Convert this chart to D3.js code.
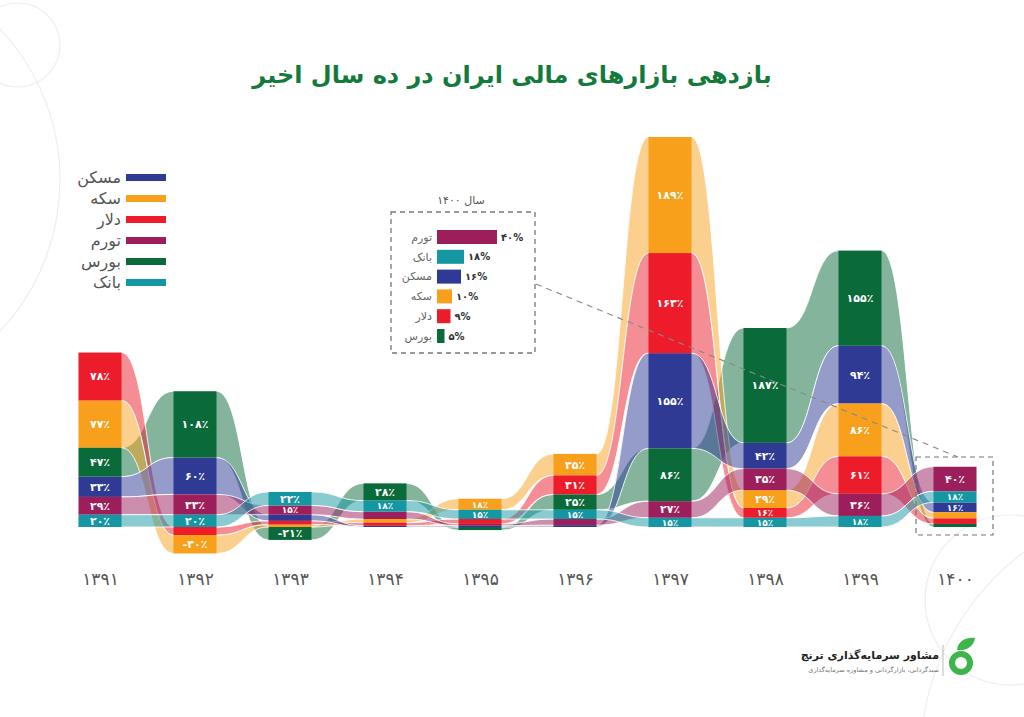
<!DOCTYPE html>
<html><head><meta charset="utf-8">
<script src="https://cdn.jsdelivr.net/npm/d3@7"></script>
<style>body{margin:0;background:#fff;} svg{display:block;font-family:"DejaVu Sans",sans-serif;}</style>
</head><body>
<svg id="c" width="1024" height="717"></svg>
<script>
// ---------- DATA ----------
const years = ["1391","1392","1393","1394","1395","1396","1397","1398","1399","1400"];
const seriesNames = ["مسکن","سکه","دلار","تورم","بورس","بانک"];
const seriesColors = ["#2E3A94","#F8A01B","#EC1C2A","#9C1E5B","#0A6A3A","#1597A3"];
const housing   = [33, 60, 10, 2, 2, 3, 155, 42, 94, 16];
const coin      = [77, -30, 4, 6, 18, 35, 189, 29, 86, 10];
const dollar    = [78, -13, 6, 5, 8, 31, 163, 16, 61, 9];
const inflation = [29, 33, 15, 12, 3, 10, 27, 35, 36, 40];
const bourse    = [47, 108, -21, 28, -5, 25, 86, 187, 155, 5];
const bank      = [20, 20, 22, 18, 15, 15, 15, 15, 18, 18];
const seriesValues = [housing, coin, dollar, inflation, bourse, bank];
const titleText = "بازدهی بازارهای مالی ایران در ده سال اخیر";
const insetTitle = "سال 1400";

// ---------- HELPERS ----------
const fa = s => String(s).replace(/\d/g, d => "۰۱۲۳۴۵۶۷۸۹"[+d]);
const svg = d3.select("#c");

// background decoration
const deco = svg.append("g").attr("fill","none").attr("stroke","#eeeeee").attr("stroke-width",1.2);
deco.append("circle").attr("cx",18).attr("cy",45).attr("r",42);
deco.append("circle").attr("cx",-160).attr("cy",180).attr("r",220);
deco.append("circle").attr("cx",1010).attr("cy",600).attr("r",85);
deco.append("circle").attr("cx",1180).attr("cy",760).attr("r",260);

// ---------- SCALES ----------
const x = d3.scalePoint().domain(years).range([100, 955]);
const y = d3.scaleLinear().domain([0, 635]).range([527, 137]);
const bw = 43;

// stack per year
const stacks = seriesNames.map(() => []);
years.forEach((yr, i) => {
  const items = seriesValues.map((arr, s) => ({s, v: arr[i]}));
  const pos = items.filter(d => d.v >= 0).sort((a,b) => a.v - b.v);
  const neg = items.filter(d => d.v < 0).sort((a,b) => b.v - a.v);
  let c = 0;
  pos.forEach(d => { stacks[d.s][i] = {v:d.v, lo:c, hi:c+d.v}; c += d.v; });
  c = 0;
  neg.forEach(d => { stacks[d.s][i] = {v:d.v, lo:c+d.v, hi:c}; c += d.v; });
});

// ---------- RIBBONS ----------
const drawOrder = [4, 1, 2, 0, 3, 5];
const rib = svg.append("g");
drawOrder.forEach(s => {
  const st = stacks[s];
  const p = d3.path();
  const n = years.length;
  const xl = i => x(years[i]) - bw/2, xr = i => x(years[i]) + bw/2;
  p.moveTo(xl(0), y(st[0].hi));
  p.lineTo(xr(0), y(st[0].hi));
  for (let i = 1; i < n; i++) {
    const m = (xr(i-1) + xl(i)) / 2;
    p.bezierCurveTo(m, y(st[i-1].hi), m, y(st[i].hi), xl(i), y(st[i].hi));
    p.lineTo(xr(i), y(st[i].hi));
  }
  p.lineTo(xr(n-1), y(st[n-1].lo));
  p.lineTo(xl(n-1), y(st[n-1].lo));
  for (let i = n-2; i >= 0; i--) {
    const m = (xr(i) + xl(i+1)) / 2;
    p.bezierCurveTo(m, y(st[i+1].lo), m, y(st[i].lo), xr(i), y(st[i].lo));
    p.lineTo(xl(i), y(st[i].lo));
  }
  p.closePath();
  rib.append("path").attr("d", p.toString())
    .attr("fill", seriesColors[s]).attr("fill-opacity", 0.5)
    .attr("stroke", "#fff").attr("stroke-width", 1).attr("stroke-opacity", 0.85);
});

// ---------- BARS ----------
const bars = svg.append("g");
const labels = svg.append("g").attr("font-weight", "bold")
  .attr("fill", "#fff").attr("text-anchor", "middle");
seriesNames.forEach((nm, s) => {
  years.forEach((yr, i) => {
    const d = stacks[s][i];
    bars.append("rect").attr("x", x(yr) - bw/2).attr("width", bw)
      .attr("y", y(d.hi)).attr("height", Math.max(0, y(d.lo) - y(d.hi)))
      .attr("fill", seriesColors[s]);
    if (Math.abs(d.v) >= 15) {
      labels.append("text").attr("x", x(yr)).attr("y", (y(d.lo) + y(d.hi)) / 2)
        .attr("font-size", Math.abs(d.v) < 20 ? 9 : 11)
        .attr("dy", "0.36em").text(fa(d.v) + "٪");
    }
  });
});

// ---------- X AXIS (year labels) ----------
const xAxis = d3.axisBottom(x).tickSize(0).tickFormat(fa);
const gx = svg.append("g").attr("transform", "translate(0,570)").call(xAxis);
gx.select(".domain").remove();
gx.selectAll("text").attr("font-size", 17).attr("fill", "#555")
  .attr("font-family", "DejaVu Sans, sans-serif");

// ---------- TITLE ----------
svg.append("text").attr("x", 512).attr("y", 83).attr("text-anchor", "middle")
  .attr("font-size", 24).attr("font-weight", "bold").attr("fill", "#137A3C")
  .text(titleText);

// ---------- LEGEND ----------
const lg = svg.append("g");
seriesNames.forEach((nm, s) => {
  const yy = 177 + s * 21;
  lg.append("rect").attr("x", 126).attr("y", yy - 3).attr("width", 40).attr("height", 7)
    .attr("fill", seriesColors[s]);
  lg.append("text").attr("x", 121).attr("y", yy).attr("dy", "0.35em")
    .attr("text-anchor", "end").attr("font-size", 16).attr("fill", "#555").text(nm);
});

// ---------- INSET ----------
const last = years.length - 1;
const insetData = seriesNames.map((nm, s) => ({nm, s, v: seriesValues[s][last]}))
  .sort((a,b) => b.v - a.v);
const ix = d3.scaleLinear().domain([0, 40]).range([0, 60]);
const ig = svg.append("g");
ig.append("text").attr("x", 461).attr("y", 204).attr("text-anchor", "middle")
  .attr("font-size", 11).attr("fill", "#555").text(fa(insetTitle));
ig.append("rect").attr("x", 391).attr("y", 212).attr("width", 144).attr("height", 141)
  .attr("fill", "none").attr("stroke", "#777").attr("stroke-width", 1.3).attr("stroke-dasharray", "5,4");
insetData.forEach((d, k) => {
  const yy = 237 + k * 19.8;
  ig.append("rect").attr("x", 437).attr("y", yy - 7).attr("width", ix(d.v)).attr("height", 14)
    .attr("fill", seriesColors[d.s]);
  ig.append("text").attr("x", 432).attr("y", yy).attr("dy", "0.35em").attr("text-anchor", "end")
    .attr("font-size", 11).attr("fill", "#666").text(d.nm);
  ig.append("text").attr("x", 437 + ix(d.v) + 4).attr("y", yy).attr("dy", "0.35em")
    .attr("font-size", 10).attr("font-weight", "bold").attr("fill", "#333").text(fa(d.v) + "%");
});
// connector + 1400 box
svg.append("line").attr("x1", 536).attr("y1", 284).attr("x2", 958).attr("y2", 457)
  .attr("stroke", "#888").attr("stroke-width", 1.1).attr("stroke-dasharray", "6,5");
svg.append("rect").attr("x", x(years[last]) - 39).attr("y", 457).attr("width", 77).attr("height", 78)
  .attr("fill", "none").attr("stroke", "#777").attr("stroke-width", 1.2).attr("stroke-dasharray", "5,4");

// ---------- LOGO ----------
const lo = svg.append("g");
lo.append("circle").attr("cx", 961).attr("cy", 663).attr("r", 9)
  .attr("fill", "none").attr("stroke", "#3DB54A").attr("stroke-width", 6);
lo.append("path").attr("d", "M957,650 C958,641 966,637 975,638 C974,646 967,651 957,650 Z").attr("fill", "#3DB54A");
lo.append("line").attr("x1", 943).attr("x2", 943).attr("y1", 645).attr("y2", 676)
  .attr("stroke", "#bbb").attr("stroke-width", 1);
lo.append("text").attr("x", 939).attr("y", 659).attr("text-anchor", "end")
  .attr("font-size", 11).attr("font-weight", "bold").attr("fill", "#222").text("مشاور سرمایه‌گذاری ترنج");
lo.append("text").attr("x", 939).attr("y", 672).attr("text-anchor", "end")
  .attr("font-size", 6.5).attr("fill", "#777").text("سبدگردانی، بازارگردانی و مشاوره سرمایه‌گذاری");
</script>
</body></html>
